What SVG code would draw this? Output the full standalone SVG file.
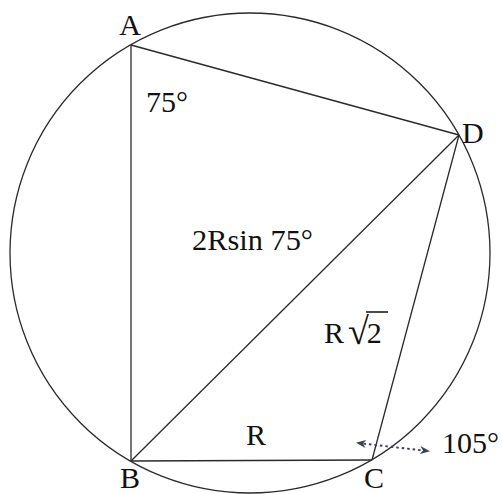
<svg xmlns="http://www.w3.org/2000/svg" width="502" height="494" viewBox="0 0 502 494">
<style>
.ln{stroke:#2a2a2a;stroke-width:1.3;fill:none}
.t{font-family:"Liberation Serif","Times New Roman",serif;font-size:30px;fill:#111}
.dot{stroke:#3a4252;stroke-width:2;stroke-dasharray:2.5 3;fill:none}
</style>
<defs>
<marker id="ah" viewBox="0 0 10 10" refX="8" refY="5" markerWidth="5" markerHeight="5" orient="auto-start-reverse" markerUnits="strokeWidth">
<path d="M0,1 L10,5 L0,9 L3,5 Z" fill="#3a4252"/>
</marker>
</defs>
<rect width="502" height="494" fill="#fff"/>
<g id="circle"><circle class="ln" cx="250" cy="253" r="240"/></g>
<g id="connectors">
<line class="ln" x1="131" y1="45" x2="131" y2="461" stroke="#111"/>
<line class="ln" x1="131" y1="45" x2="459" y2="135"/>
<line class="ln" x1="131" y1="461" x2="459" y2="135"/>
<line class="ln" x1="131" y1="461" x2="372" y2="460"/>
<line class="ln" x1="372" y1="460" x2="459" y2="135"/>
<line class="dot" x1="358" y1="443" x2="428" y2="451" marker-start="url(#ah)" marker-end="url(#ah)"/>
</g>
<g id="A"><text class="t" x="130" y="35" text-anchor="middle">A</text></g>
<g id="B"><text class="t" x="130" y="488" text-anchor="middle">B</text></g>
<g id="C"><text class="t" x="374" y="488" text-anchor="middle">C</text></g>
<g id="D"><text class="t" x="462" y="143">D</text></g>
<g id="labels">
<text class="t" x="146" y="112">75°</text>
<text class="t" x="192" y="250" textLength="121" lengthAdjust="spacingAndGlyphs">2Rsin 75°</text>
<text class="t" x="324" y="343">R</text>
<text class="t" x="348" y="344"><tspan style="font-size:38px">√</tspan><tspan dx="-2" dy="-1">2</tspan></text>
<line x1="366" y1="312" x2="388" y2="312" stroke="#111" stroke-width="1.5"/>
<text class="t" x="246" y="445">R</text>
<text class="t" x="442" y="453">105°</text>
</g>
</svg>
